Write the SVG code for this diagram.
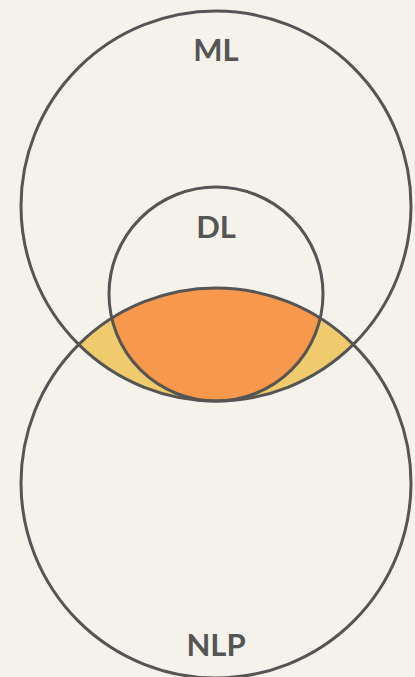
<svg xmlns="http://www.w3.org/2000/svg" width="415" height="677" viewBox="0 0 415 677">
<style>
.c{fill:none;stroke:#555555;stroke-width:3}
.t{font-family:Lato,"Liberation Sans",sans-serif;font-weight:700;font-size:31px;fill:#555555;text-anchor:middle}
</style>
<defs>
<clipPath id="cML"><circle cx="216" cy="206" r="195"/></clipPath>
<clipPath id="cDL"><circle cx="216" cy="294" r="107"/></clipPath>
</defs>
<rect width="415" height="677" fill="#F4F2EA"/>
<g id="fills">
<circle cx="216" cy="483" r="195" fill="#F0CB6E" clip-path="url(#cML)"/>
<circle cx="216" cy="483" r="195" fill="#F7984C" clip-path="url(#cDL)"/>
</g>
<g id="ML"><circle class="c" cx="216" cy="206" r="195"/><text class="t" x="216" y="61">ML</text></g>
<g id="DL"><circle class="c" cx="216" cy="294" r="107"/><text class="t" x="216" y="238">DL</text></g>
<g id="NLP"><circle class="c" cx="216" cy="483" r="195"/><text class="t" x="216" y="656">NLP</text></g>
<g id="connectors"></g>
</svg>
